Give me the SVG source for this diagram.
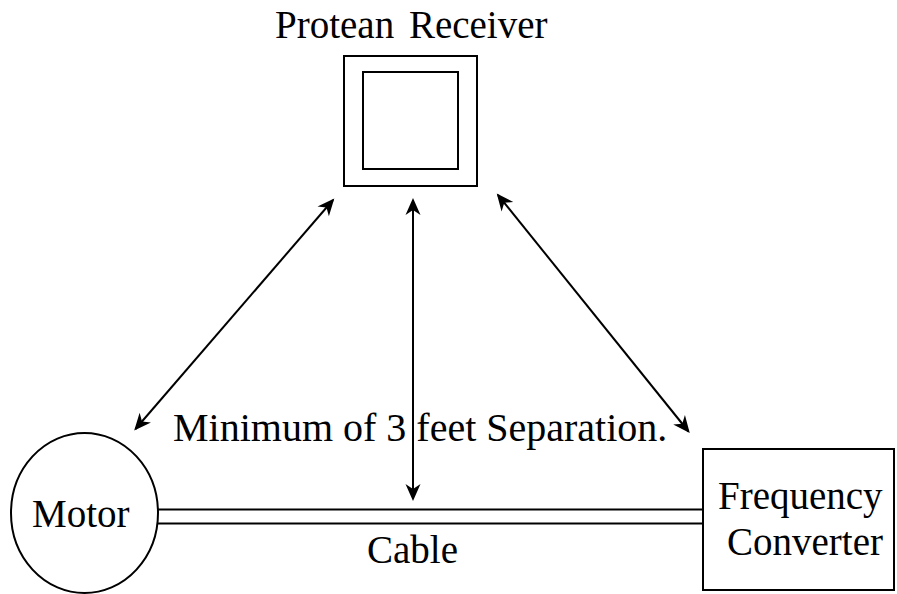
<svg xmlns="http://www.w3.org/2000/svg" width="897" height="594" viewBox="0 0 897 594">
<style>
.s{fill:none;stroke:#000;stroke-width:2}
.t{font-family:"Liberation Serif","Times New Roman",serif;font-size:39px;fill:#000}
.a{stroke:#000;stroke-width:2;fill:none;marker-start:url(#ah);marker-end:url(#ah)}
</style>
<defs>
<marker id="ah" markerUnits="userSpaceOnUse" markerWidth="24" markerHeight="20" viewBox="-20 -10 24 20" refX="0" refY="0" orient="auto-start-reverse">
<path d="M2,0 L-15,-7.5 L-10,0 L-15,7.5 Z" fill="#000"/>
</marker>
</defs>
<rect width="897" height="594" fill="#fff"/>
<g id="receiver">
<rect class="s" x="344" y="56" width="133" height="130"/>
<rect class="s" x="363" y="72" width="95" height="97"/>
<text class="t" x="275" y="38" style="word-spacing:5px">Protean Receiver</text>
</g>
<g id="motor">
<ellipse class="s" cx="84.5" cy="513" rx="73.5" ry="80"/>
<text class="t" x="32" y="527">Motor</text>
</g>
<g id="converter">
<rect class="s" x="703" y="449" width="191" height="141"/>
<text class="t" x="718" y="509">Frequency</text>
<text class="t" x="727" y="555">Converter</text>
</g>
<g id="cable">
<line class="s" x1="158" y1="509.5" x2="703" y2="509.5"/>
<line class="s" x1="158" y1="523.5" x2="703" y2="523.5"/>
<text class="t" x="367" y="563">Cable</text>
</g>
<g id="connectors">
<line class="a" x1="333" y1="200" x2="135.5" y2="429"/>
<line class="a" x1="413" y1="200" x2="413" y2="499"/>
<line class="a" x1="498" y1="195" x2="688.5" y2="431.5"/>
</g>
<text class="t" x="173" y="441" style="font-size:40px">Minimum of 3 feet Separation.</text>
</svg>
